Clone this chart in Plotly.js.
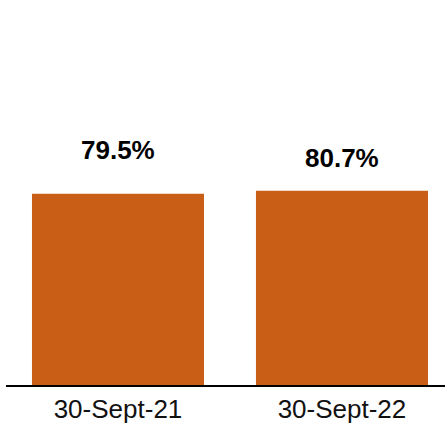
<!DOCTYPE html>
<html>
<head>
<meta charset="utf-8">
<script src="https://cdn.plot.ly/plotly-3.0.1.min.js"></script>
<style>html,body{margin:0;padding:0;background:#fff;}#chart{width:445px;height:432px;}</style>
</head>
<body>
<div id="chart"></div>
<script>
const categories = ["30-Sept-21", "30-Sept-22"];
const values = [79.5, 80.7];
const valueLabels = ["79.5%", "80.7%"];
const labelShifts = [44, 33];

const trace = {
  type: "bar",
  x: categories,
  y: values,
  marker: {color: "#C95F17"},
  hoverinfo: "none"
};

const annotations = categories.map((c, i) => ({
  x: c, y: values[i], xref: "x", yref: "y",
  text: "<b>" + valueLabels[i] + "</b>",
  showarrow: false, yanchor: "middle", yshift: labelShifts[i],
  font: {family: "Liberation Sans, Arial, sans-serif", size: 26, color: "#000"}
}));

const layout = {
  width: 445, height: 432,
  margin: {l: 6, r: 0, t: 0, b: 47},
  paper_bgcolor: "#fff", plot_bgcolor: "#fff",
  bargap: 0.232,
  showlegend: false,
  xaxis: {
    type: "category",
    range: [-0.5, 1.46],
    showline: true, linecolor: "#000", linewidth: 2,
    showgrid: false, zeroline: false, ticks: "",
    ticklabelstandoff: 0,
    tickfont: {family: "Liberation Sans, Arial, sans-serif", size: 26, color: "#111"}
  },
  yaxis: {
    range: [0, 160],
    visible: false, showgrid: false, zeroline: false
  },
  annotations: annotations
};

Plotly.newPlot("chart", [trace], layout, {staticPlot: true, displayModeBar: false});
</script>
</body>
</html>
